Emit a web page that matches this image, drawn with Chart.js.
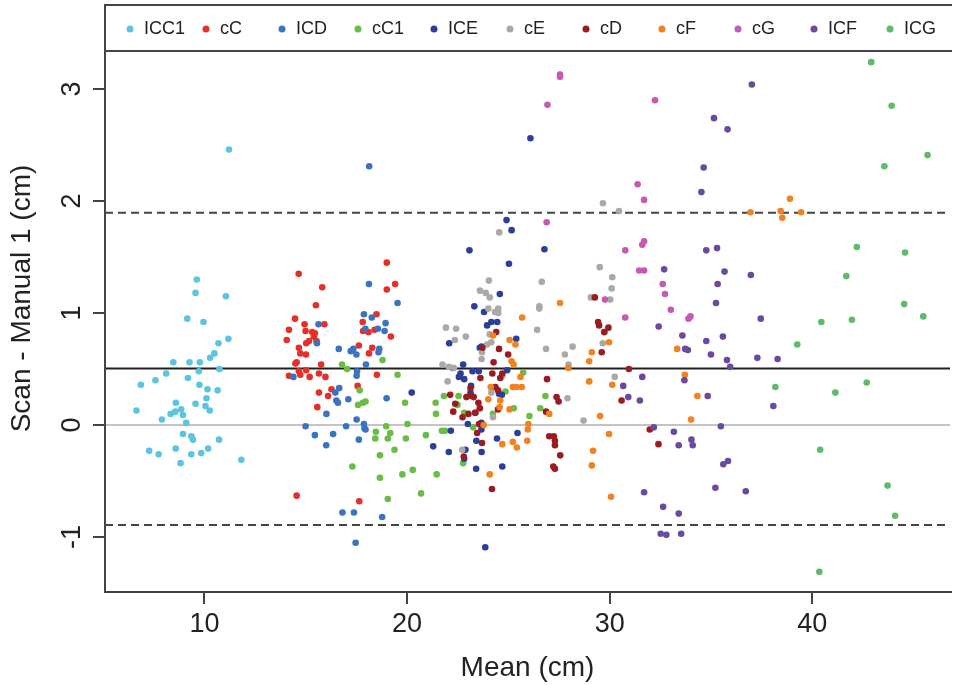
<!DOCTYPE html>
<html>
<head>
<meta charset="utf-8">
<title>Scan - Manual 1</title>
<script src="https://cdn.jsdelivr.net/npm/chart.js@4.4.1/dist/chart.umd.min.js"></script>
<style>
  html, body { margin: 0; padding: 0; background: #fff; }
  canvas { display: block; }
</style>
</head>
<body>
<canvas id="baPlot" width="954" height="685"></canvas>
<script>
// series names in plotting order
const seriesNames = ["ICC1", "cC", "ICD", "cC1", "ICE", "cE", "cD", "cF", "cG", "ICF", "ICG"];
const seriesColors = ["#5BC5DF", "#E5302A", "#3B73C0", "#69BD45", "#2B3E9A", "#A9A9A9", "#9B1C20", "#F08222", "#C55AB3", "#6A4A9F", "#5DBB6A"];

// [mean, difference] pairs
const ICC1 = [[11.21,2.46],[9.62,1.30],[9.56,1.18],[11.06,1.15],[9.15,0.95],[9.95,0.92],[11.18,0.77],[10.69,0.73],[10.49,0.64],[10.28,0.60],[8.46,0.56],[9.26,0.56],[9.77,0.56],[10.74,0.50],[9.72,0.48],[8.11,0.46],[6.86,0.36],[7.58,0.40],[9.18,0.42],[9.75,0.36],[10.15,0.32],[10.65,0.31],[10.10,0.24],[8.59,0.20],[9.56,0.19],[10.05,0.17],[10.26,0.13],[6.64,0.13],[8.85,0.14],[8.56,0.12],[8.33,0.10],[8.94,0.09],[7.90,0.05],[9.10,0.02],[8.94,-0.08],[9.35,-0.10],[9.43,-0.13],[10.72,-0.13],[7.27,-0.23],[7.74,-0.26],[8.58,-0.21],[9.35,-0.26],[9.84,-0.25],[10.18,-0.21],[8.82,-0.34],[11.82,-0.31]];
const cC = [[14.65,1.35],[15.81,1.23],[15.50,1.07],[14.47,0.95],[14.94,0.90],[15.92,0.90],[18.49,0.99],[17.81,0.92],[19.0,1.45],[19.0,1.21],[19.41,1.26],[14.17,0.85],[14.99,0.84],[15.32,0.83],[15.45,0.82],[15.40,0.79],[14.06,0.76],[15.16,0.75],[15.02,0.73],[15.53,0.75],[14.66,0.69],[14.73,0.64],[15.01,0.63],[14.55,0.56],[14.49,0.55],[15.76,0.54],[14.66,0.48],[15.02,0.49],[14.73,0.45],[14.17,0.44],[15.19,0.43],[15.65,0.46],[15.97,0.43],[16.27,0.32],[15.65,0.29],[16.1,0.26],[15.57,0.16],[14.55,-0.63],[17.64,-0.68],[17.62,0.71],[17.83,0.84],[18.10,0.83],[18.28,0.69],[18.12,0.64],[18.40,0.85],[18.51,0.45],[17.56,0.35],[19.2,0.79]];
const ICD = [[18.13,2.31],[15.63,0.90],[18.12,1.26],[17.87,0.99],[18.26,0.96],[18.94,0.91],[19.53,1.09],[15.55,0.73],[17.94,0.86],[18.56,0.86],[18.89,0.84],[16.63,0.68],[17.22,0.66],[17.35,0.68],[17.5,0.63],[18.63,0.68],[18.59,0.65],[17.97,0.54],[17.53,0.48],[17.51,0.44],[14.39,0.43],[16.46,0.29],[16.65,0.33],[16.51,0.22],[16.59,0.20],[17.1,0.23],[16.02,0.10],[18.99,0.24],[17.51,0.05],[16.99,-0.01],[14.99,-0.01],[17.87,0.01],[17.90,-0.03],[17.95,-0.04],[15.45,-0.09],[16.35,-0.08],[17.62,-0.13],[16.01,-0.18],[16.81,-0.78],[17.38,-0.78],[18.77,-0.82],[17.46,-1.05]];
const cC1 = [[16.79,0.54],[17.04,0.50],[18.79,0.58],[17.66,0.31],[17.58,0.18],[17.82,0.20],[17.95,0.21],[18.97,-0.01],[18.46,-0.06],[18.43,-0.12],[19.05,-0.12],[18.66,-0.27],[17.30,-0.37],[18.66,-0.47],[19.05,-0.66],[19.53,0.45],[19.90,0.20],[20.02,0.01],[19.17,-0.07],[19.38,-0.22],[19.94,-0.12],[20.93,-0.09],[21.72,-0.05],[21.87,-0.05],[21.41,0.20],[21.43,0.10],[21.82,0.26],[22.54,0.26],[22.49,0.18],[22.82,0.11],[23.26,-0.02],[23.60,0.15],[24.24,0.10],[25.27,0.15],[24.86,0.30],[25.73,0.47],[26.04,0.08],[26.57,0.15],[26.83,0.26],[19.77,-0.44],[20.28,-0.40],[21.46,-0.44],[20.69,-0.61],[22.77,-0.34]];
const ICE = [[26.09,2.56],[24.91,1.83],[25.16,1.74],[23.08,1.56],[26.78,1.57],[25.03,1.44],[24.58,1.17],[23.32,1.06],[23.8,1.01],[24.45,0.92],[24.16,0.92],[22.08,0.73],[23.95,0.89],[25.39,0.77],[23.59,0.69],[23.68,0.70],[22.77,0.54],[22.26,0.51],[23.23,0.48],[23.54,0.48],[22.64,0.46],[22.56,0.43],[22.82,0.41],[23.16,0.35],[23.13,0.29],[24.94,0.49],[24.54,0.28],[24.68,0.27],[23.36,0.11],[23.0,0.01],[23.67,-0.04],[23.67,0.02],[22.16,-0.05],[21.29,-0.19],[22.06,-0.24],[22.88,-0.22],[22.82,-0.30],[23.42,-0.14],[23.68,-0.24],[23.41,-0.39],[24.44,-0.12],[24.70,-0.37],[25.45,-0.07],[23.86,-1.09],[20.23,0.29]];
const cE = [[29.67,1.98],[30.46,1.91],[24.55,1.72],[29.51,1.41],[30.13,1.32],[30.10,1.22],[30.03,1.12],[29.07,1.14],[26.65,1.28],[24.04,1.29],[23.60,1.20],[23.88,1.18],[24.08,1.14],[24.01,1.04],[24.50,1.04],[24.34,1.01],[24.50,1.00],[26.53,1.06],[26.53,1.04],[21.92,0.87],[22.42,0.86],[22.36,0.76],[22.90,0.79],[24.16,0.74],[23.95,0.72],[24.08,0.81],[23.68,0.59],[23.70,0.65],[26.42,0.85],[26.86,0.68],[27.79,0.63],[28.17,0.70],[27.97,0.54],[29.66,0.73],[29.72,0.83],[30.25,0.43],[28.71,0.04],[27.92,0.24],[21.75,0.54],[22.0,0.39],[22.06,0.52],[22.31,0.51],[24.16,0.29],[24.70,0.44],[24.24,0.07],[22.72,-0.22]];
const cD = [[29.27,1.14],[24.40,0.83],[24.54,0.68],[24.99,0.63],[24.27,0.56],[23.72,0.69],[23.62,0.42],[24.21,0.46],[24.6,0.42],[24.70,0.46],[24.36,0.34],[24.49,0.31],[23.13,0.33],[22.93,0.25],[23.19,0.26],[22.13,0.27],[22.38,0.19],[22.28,0.12],[22.74,0.07],[23.03,0.10],[23.37,0.11],[23.52,0.20],[23.59,0.15],[24.49,0.14],[23.29,0.25],[23.55,0.01],[23.67,0.0],[23.46,-0.07],[23.70,-0.16],[22.8,-0.28],[24.19,-0.57],[26.91,0.41],[26.86,0.12],[27.38,0.25],[27.48,0.21],[27.02,-0.10],[27.24,-0.10],[27.30,-0.14],[27.30,-0.18],[27.56,-0.27],[27.22,-0.37],[27.30,-0.39],[29.43,0.92],[29.48,0.89],[29.74,0.83],[29.94,0.87],[29.61,0.65],[30.95,0.50],[30.59,0.22],[31.98,-0.04],[32.41,-0.17]];
const cF = [[27.55,1.09],[25.68,0.96],[24.24,0.80],[25.06,0.76],[25.35,0.72],[25.16,0.57],[25.26,0.54],[25.60,0.43],[25.22,0.34],[25.39,0.34],[25.66,0.34],[24.13,0.34],[24.60,0.22],[24.57,0.16],[25.06,0.14],[25.99,0.01],[25.96,-0.04],[25.93,-0.14],[25.42,-0.20],[25.22,-0.15],[24.70,-0.17],[24.08,-0.44],[27.02,0.10],[29.12,0.65],[28.99,0.57],[29.97,0.74],[27.96,0.51],[28.99,0.39],[30.13,0.36],[29.53,0.08],[29.97,-0.08],[29.18,-0.23],[29.12,-0.36],[30.07,-0.64],[23.78,0.0],[24.01,0.23],[38.90,2.02],[36.95,1.90],[38.44,1.91],[38.52,1.85],[39.45,1.90],[33.33,0.68],[33.71,0.45],[34.33,0.26],[34.02,0.05]];
const cG = [[27.55,3.13],[27.55,3.11],[26.93,2.86],[32.24,2.90],[31.38,2.15],[31.70,2.01],[26.89,1.81],[30.77,1.56],[31.70,1.64],[31.61,1.61],[31.46,1.38],[31.70,1.38],[32.62,1.26],[32.73,1.17],[29.77,1.12],[30.77,0.96],[33.02,1.03],[33.89,0.95],[33.99,0.97]];
const ICF = [[32.69,1.39],[32.42,0.88],[31.61,0.43],[30.67,0.35],[30.92,0.25],[31.49,0.22],[32.18,-0.02],[31.70,-0.60],[32.64,-0.73],[32.52,-0.97],[32.80,-0.98],[37.02,3.04],[35.15,2.74],[35.82,2.64],[34.64,2.30],[34.53,2.08],[34.77,1.56],[35.30,1.58],[35.67,1.37],[36.97,1.34],[35.33,1.26],[35.25,1.09],[37.46,0.95],[33.59,0.80],[34.77,0.75],[35.59,0.79],[33.73,0.68],[33.86,0.67],[35.0,0.63],[35.79,0.58],[35.95,0.52],[37.29,0.60],[38.29,0.59],[33.69,0.40],[34.84,0.26],[38.08,0.17],[35.49,-0.01],[33.17,-0.06],[34.04,-0.13],[33.41,-0.18],[34.10,-0.18],[35.84,-0.32],[35.61,-0.35],[35.22,-0.56],[36.72,-0.59],[33.41,-0.79],[33.53,-0.97]];
const ICG = [[42.91,3.24],[43.92,2.85],[45.69,2.41],[43.56,2.31],[42.2,1.59],[44.58,1.54],[41.68,1.33],[44.54,1.08],[45.48,0.97],[40.45,0.92],[41.96,0.94],[39.26,0.72],[38.18,0.34],[41.14,0.29],[42.69,0.38],[40.39,-0.22],[43.72,-0.54],[44.09,-0.81],[40.35,-1.31]];

const seriesData = [ICC1, cC, ICD, cC1, ICE, cE, cD, cF, cG, ICF, ICG];

// bias and limits of agreement
const meanDiff = 0.506;
const upperLimit = 1.896;
const lowerLimit = -0.892;

// axis ranges and ticks
const xRange = [5.09, 46.8];
const yRange = [-1.49, 3.75];
const xTicks = [10, 20, 30, 40];
const yTicks = [-1, 0, 1, 2, 3];

const FONT = "'Liberation Sans', Arial, Helvetica, sans-serif";
Chart.defaults.font.family = FONT;
Chart.defaults.color = "#222";

const pointSets = seriesData.map((pts, i) => ({
    type: "scatter",
    label: seriesNames[i],
    data: pts.map(p => ({ x: p[0], y: p[1] })),
    backgroundColor: seriesColors[i],
    borderWidth: 0,
    pointRadius: 3.3,
    order: seriesNames.length - i
}));

function hLine(label, value, color, dash) {
    return {
        type: "line",
        label,
        data: [{ x: xRange[0], y: value }, { x: xRange[1], y: value }],
        borderColor: color,
        borderWidth: 2,
        borderDash: dash,
        pointRadius: 0,
        order: 100
    };
}

const refLines = [
    hLine("zero", 0, "#C4C4C4", []),
    hLine("bias", meanDiff, "#1E1E1E", []),
    hLine("upper", upperLimit, "#444", [8, 5]),
    hLine("lower", lowerLimit, "#444", [8, 5])
];

// frame, rotated y labels and the boxed legend across the top (R style)
const frameAndLegend = {
    id: "frameAndLegend",
    afterDraw(chart) {
        const { ctx, chartArea: a, scales } = chart;
        ctx.save();
        ctx.strokeStyle = "#444";
        ctx.lineWidth = 2;
        ctx.beginPath();
        ctx.moveTo(a.right + 2, a.top);
        ctx.lineTo(a.left, a.top);
        ctx.lineTo(a.left, a.bottom);
        ctx.lineTo(a.right + 2, a.bottom);
        ctx.stroke();

        // y tick labels, parallel to the axis
        ctx.fillStyle = "#222";
        ctx.font = "27px " + FONT;
        ctx.textAlign = "center";
        ctx.textBaseline = "middle";
        yTicks.forEach(v => {
            const y = scales.y.getPixelForValue(v);
            ctx.save();
            ctx.translate(a.left - 32, y);
            ctx.rotate(-Math.PI / 2);
            ctx.fillText(String(v), 0, 0);
            ctx.restore();
        });

        // legend box
        const boxBottom = a.top + 46;
        ctx.beginPath();
        ctx.moveTo(a.left, boxBottom);
        ctx.lineTo(a.right + 2, boxBottom);
        ctx.stroke();
        ctx.font = "18px " + FONT;
        ctx.textAlign = "left";
        const legendY = a.top + 24;
        seriesNames.forEach((name, i) => {
            const x = a.left + 25 + i * 76;
            ctx.fillStyle = seriesColors[i];
            ctx.beginPath();
            ctx.arc(x, legendY, 3.5, 0, Math.PI * 2);
            ctx.fill();
            ctx.fillStyle = "#222";
            ctx.fillText(name, x + 14, legendY);
        });
        ctx.restore();
    }
};

new Chart(document.getElementById("baPlot"), {
    type: "scatter",
    data: { datasets: [...refLines, ...pointSets] },
    options: {
        responsive: false,
        animation: false,
        devicePixelRatio: 1,
        layout: { padding: { top: 5, right: 0, bottom: 0, left: 0 } },
        plugins: { legend: { display: false }, tooltip: { enabled: false } },
        scales: {
            x: {
                type: "linear",
                min: xRange[0],
                max: xRange[1],
                afterBuildTicks: s => { s.ticks = xTicks.map(v => ({ value: v })); },
                afterFit: s => { s.height = 93; },
                border: { display: false },
                grid: { drawOnChartArea: false, drawTicks: true, tickLength: 12, color: "#444", lineWidth: 2 },
                ticks: { font: { size: 27 }, color: "#222", padding: 4, maxRotation: 0 },
                title: { display: true, text: "Mean (cm)", font: { size: 28, lineHeight: 1 }, color: "#222", padding: { top: 0, bottom: 3 } }
            },
            y: {
                type: "linear",
                min: yRange[0],
                max: yRange[1],
                afterBuildTicks: s => { s.ticks = yTicks.map(v => ({ value: v })); },
                afterFit: s => { s.width = 105; },
                border: { display: false },
                grid: { drawOnChartArea: false, drawTicks: true, tickLength: 12, color: "#444", lineWidth: 2 },
                ticks: { display: false },
                title: { display: true, text: "Scan - Manual 1 (cm)", font: { size: 28, lineHeight: 1 }, color: "#222", padding: { top: 8, bottom: 0 } }
            }
        }
    },
    plugins: [frameAndLegend]
});
</script>
</body>
</html>
